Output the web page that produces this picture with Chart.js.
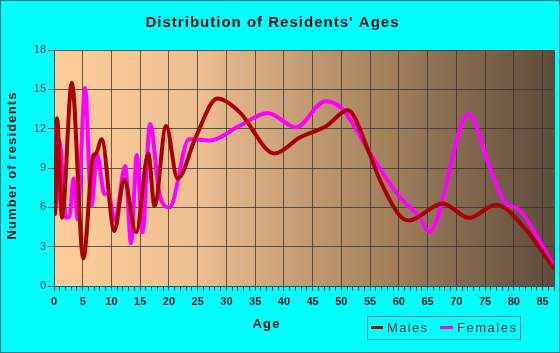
<!DOCTYPE html>
<html><head><meta charset="utf-8">
<script src="https://cdn.jsdelivr.net/npm/chart.js@4/dist/chart.umd.min.js"></script>
<style>html,body{margin:0;padding:0;background:#00FFFF}#wrap{width:560px;height:353px}</style>
</head><body><div id="wrap"><canvas id="c" width="560" height="353"></canvas></div>
<script>
const chartTitle = "Distribution of Residents' Ages";
const xTitle = "Age";
const yTitle = "Number of residents";
const seriesNames = ["Males", "Females"];
const yTickValues = [0, 3, 6, 9, 12, 15, 18];
const xTickLabels = [0, 5, 10, 15, 20, 25, 30, 35, 40, 45, 50, 55, 60, 65, 70, 75, 80, 85];

const maleAges = [0, 0.18, 0.54, 1.4, 3.1, 5.1, 6.8, 7.3, 8.3, 10.5, 12.2, 14.3, 16.4, 17.5, 19.5, 21.5, 24.7, 28.4, 32.2, 38.4, 42.7, 47.4, 51.1, 54.9, 56.6, 60.1, 61.8, 67.6, 72.2, 76.9, 82.1, 87];
const maleValues = [10.0, 5.5, 12.8, 5.2, 15.5, 2.1, 9.9, 10.1, 11.2, 4.2, 8.1, 4.1, 10.1, 6.1, 12.2, 8.2, 11.4, 14.3, 13.3, 10.1, 11.3, 12.2, 13.4, 10.1, 8.2, 5.4, 5.0, 6.3, 5.2, 6.2, 4.3, 1.3];

const femaleAges = [0, 0.35, 0.96, 2.1, 2.7, 3.4, 4.1, 5.4, 6.5, 7.5, 8.8, 9.4, 10.6, 12.4, 13.4, 14.4, 15.4, 16.7, 18.4, 20.1, 23.5, 27.1, 32.2, 37.2, 42.1, 47.2, 50.2, 54.9, 60.1, 63.5, 65.3, 72.1, 75.8, 78.1, 81.2, 87];
const femaleValues = [12.3, 6.0, 11.0, 5.2, 5.3, 8.2, 5.1, 15.1, 6.1, 10.0, 7.0, 7.1, 5.0, 9.15, 3.25, 10.0, 4.1, 12.35, 6.9, 6.0, 11.2, 11.1, 12.2, 13.2, 12.1, 14.1, 13.5, 10.2, 6.8, 5.3, 4.15, 13.1, 9.1, 6.6, 5.7, 1.5];

const maleColor = '#AA0000';
const femaleColor = '#FF00FF';
const FONT = '"Liberation Sans", Arial, sans-serif';

function spacedText(ctx, text, cx, cy, width, font, color) {
  ctx.font = font;
  ctx.letterSpacing = '0px';
  const w = ctx.measureText(text).width;
  const sp = text.length > 1 ? Math.max(0, (width - w) / (text.length - 1)) : 0;
  ctx.letterSpacing = sp + 'px';
  ctx.fillStyle = color;
  ctx.textAlign = 'left';
  ctx.textBaseline = 'middle';
  ctx.fillText(text, cx - width / 2, cy);
  ctx.letterSpacing = '0px';
}

const decor = {
  id: 'decor',
  beforeDraw(chart) {
    const { ctx, chartArea: a } = chart;
    ctx.save();
    ctx.fillStyle = '#00FFFF';
    ctx.fillRect(0, 0, chart.width, chart.height);
    const g = ctx.createLinearGradient(a.left, 0, a.right, 0);
    g.addColorStop(0, '#FFCC99');
    g.addColorStop(0.15, '#F8C695');
    g.addColorStop(0.3, '#EBBD90');
    g.addColorStop(0.65, '#A6835F');
    g.addColorStop(1, '#5E4C3C');
    ctx.fillStyle = g;
    ctx.fillRect(a.left, a.top, a.right - a.left, a.bottom - a.top);
    ctx.restore();
  },
  beforeDatasetsDraw(chart) {
    const { ctx, chartArea: a } = chart;
    ctx.save();
    ctx.strokeStyle = '#3f3f3f';
    ctx.lineWidth = 1;
    ctx.beginPath();
    ctx.moveTo(Math.round(a.right) + 0.5, a.top);
    ctx.lineTo(Math.round(a.right) + 0.5, a.bottom);
    ctx.stroke();
    ctx.restore();
  },
  afterDraw(chart) {
    const { ctx } = chart;
    ctx.save();
    spacedText(ctx, chartTitle, 272, 23, 253, 'bold 15px ' + FONT, '#111');
    spacedText(ctx, xTitle, 266, 324, 27, 'bold 13px ' + FONT, '#111');
    ctx.save();
    ctx.translate(12, 166);
    ctx.rotate(-Math.PI / 2);
    spacedText(ctx, yTitle, 0, 0, 147, 'bold 13px ' + FONT, '#111');
    ctx.restore();
    ctx.strokeStyle = '#138a8a';
    ctx.lineWidth = 1;
    ctx.strokeRect(367.5, 316.5, 153, 23);
    ctx.lineWidth = 3;
    ctx.strokeStyle = maleColor;
    ctx.beginPath(); ctx.moveTo(371, 327.5); ctx.lineTo(383, 327.5); ctx.stroke();
    ctx.strokeStyle = femaleColor;
    ctx.beginPath(); ctx.moveTo(440, 327.5); ctx.lineTo(453, 327.5); ctx.stroke();
    spacedText(ctx, seriesNames[0], 407, 328, 40, '13px ' + FONT, '#1b3434');
    spacedText(ctx, seriesNames[1], 486.5, 328, 59, '13px ' + FONT, '#1b3434');
    ctx.lineWidth = 1;
    ctx.strokeStyle = '#108080';
    ctx.strokeRect(0.5, 0.5, chart.width - 1, chart.height - 1);
    ctx.restore();
  }
};

new Chart(document.getElementById('c'), {
  type: 'line',
  data: {
    datasets: [
      {
        label: seriesNames[0],
        data: maleAges.map((x, i) => ({ x, y: maleValues[i] })),
        borderColor: maleColor,
        borderWidth: 4,
        pointRadius: 0,
        cubicInterpolationMode: 'monotone',
        fill: false
      },
      {
        label: seriesNames[1],
        data: femaleAges.map((x, i) => ({ x, y: femaleValues[i] })),
        borderColor: femaleColor,
        borderWidth: 4,
        pointRadius: 0,
        cubicInterpolationMode: 'monotone',
        fill: false
      }
    ]
  },
  options: {
    responsive: false,
    animation: false,
    layout: { padding: { top: 50, right: 6, left: 0, bottom: 0 } },
    plugins: { legend: { display: false }, title: { display: false }, tooltip: { enabled: false } },
    scales: {
      x: {
        type: 'linear',
        min: 0,
        max: 87,
        afterFit(scale) { scale.height = 67; },
        afterBuildTicks(scale) {
          const t = [];
          for (let v = 0; v <= 87; v++) t.push({ value: v });
          scale.ticks = t;
        },
        ticks: {
          autoSkip: false,
          maxRotation: 0,
          padding: 4,
          color: '#111',
          font: { family: FONT, size: 11, weight: 'bold' },
          callback: (v) => (xTickLabels.includes(v) ? String(v) : '')
        },
        grid: {
          drawOnChartArea: true,
          color: (c) => (c.tick && xTickLabels.includes(c.tick.value) && c.tick.value !== 0 ? 'rgba(50,50,50,0.75)' : 'rgba(0,0,0,0)'),
          tickColor: '#2f4f4f',
          tickLength: 5,
          lineWidth: 1
        },
        border: { display: true, color: '#2f4f4f', width: 1 }
      },
      y: {
        min: 0,
        max: 18,
        afterFit(scale) { scale.width = 54; },
        afterBuildTicks(scale) { scale.ticks = yTickValues.map(v => ({ value: v })); },
        ticks: {
          padding: 2,
          color: '#404040',
          font: { family: FONT, size: 11 }
        },
        grid: {
          color: (c) => (c.tick && c.tick.value !== 0 ? 'rgba(50,50,50,0.75)' : 'rgba(0,0,0,0)'),
          tickColor: '#2f4f4f',
          tickLength: 6,
          lineWidth: 1
        },
        border: { display: true, color: '#2f4f4f', width: 1 }
      }
    }
  },
  plugins: [decor]
});
</script>
</body></html>
